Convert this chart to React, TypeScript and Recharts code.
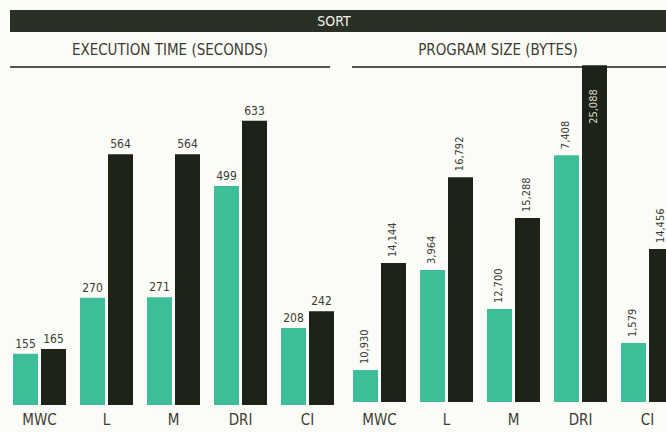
import { Bar, BarChart, LabelList, XAxis, YAxis } from "recharts"

const categories = ["MWC", "L", "M", "DRI", "CI"]

// execution time, seconds
const execFirst = [155, 270, 271, 499, 208]
const execSecond = [165, 564, 564, 633, 242]

// program size: printed labels, and the bar lengths as drawn in the original
// (the original art is not to scale with its own labels)
const sizeFirstLabels = ["10,930", "3,964", "12,700", "7,408", "1,579"]
const sizeSecondLabels = ["14,144", "16,792", "15,288", "25,088", "14,456"]
const sizeFirstDrawn = [2380, 9830, 6920, 18390, 4390]
const sizeSecondDrawn = [10350, 16750, 13700, 25088, 11390]

const TEAL = "#3dbe98"
const DARK = "#1e2318"
const TEXT = "#3c3d33"
const FONT = "'Liberation Sans Narrow', 'DejaVu Sans Condensed', 'Roboto', sans-serif"

const execData = categories.map((name, i) => ({
    name,
    first: execFirst[i],
    second: execSecond[i],
}))

const sizeData = categories.map((name, i) => ({
    name,
    first: sizeFirstDrawn[i],
    second: sizeSecondDrawn[i],
}))

const VerticalLabel = (labels: string[]) => (props: any) => {
    const { x, y, width, index } = props
    const cx = x + width / 2
    const inside = y < 100
    const ty = inside ? y + 24 : y - 6
    return (
        <text
            x={cx}
            y={ty}
            transform={`rotate(-90 ${cx} ${ty})`}
            textAnchor={inside ? "end" : "start"}
            dominantBaseline="middle"
            fontSize={11}
            fontFamily={FONT}
            fill={inside ? "#d8d8c8" : TEXT}
        >
            {labels[index]}
        </text>
    )
}

const tick = { fill: TEXT, fontSize: 15, fontFamily: FONT }

export default function App() {
    return (
        <div
            style={{
                position: "absolute",
                left: 0,
                top: 0,
                width: 666,
                height: 432,
                overflow: "hidden",
                background: "#fbfbf7",
                fontFamily: FONT,
                color: TEXT,
            }}
        >
            <div
                style={{
                    position: "absolute",
                    left: 10,
                    top: 10,
                    width: 660,
                    height: 22,
                    background: "#2b3025",
                    color: "#f2f2ea",
                    fontSize: 14,
                    lineHeight: "22px",
                    textAlign: "center",
                    textIndent: -12,
                }}
            >
                SORT
            </div>
            <div style={{ position: "absolute", left: 10, top: 41, width: 320, textAlign: "center", fontSize: 15 }}>
                EXECUTION TIME (SECONDS)
            </div>
            <div style={{ position: "absolute", left: 10, top: 66, width: 320, height: 2, background: "#55574a" }} />
            <div style={{ position: "absolute", left: 352, top: 41, width: 292, textAlign: "center", fontSize: 15 }}>
                PROGRAM SIZE (BYTES)
            </div>
            <div style={{ position: "absolute", left: 352, top: 66, width: 320, height: 2, background: "#55574a" }} />

            <div style={{ position: "absolute", left: 5.5, top: 80 }}>
                <BarChart
                    width={335}
                    height={350}
                    data={execData}
                    margin={{ top: 8, right: 0, left: 0, bottom: 0 }}
                    barSize={25}
                    barGap={3}
                >
                    <XAxis dataKey="name" axisLine={false} tickLine={false} tick={tick} height={25} tickMargin={3} />
                    <YAxis hide domain={[50, 700]} />
                    <Bar dataKey="first" fill={TEAL} isAnimationActive={false}>
                        <LabelList dataKey="first" position="top" offset={6} fill={TEXT} fontSize={12} fontFamily={FONT} />
                    </Bar>
                    <Bar dataKey="second" fill={DARK} isAnimationActive={false}>
                        <LabelList dataKey="second" position="top" offset={6} fill={TEXT} fontSize={12} fontFamily={FONT} />
                    </Bar>
                </BarChart>
            </div>

            <div style={{ position: "absolute", left: 345.5, top: 40 }}>
                <BarChart
                    width={335}
                    height={390}
                    data={sizeData}
                    margin={{ top: 13, right: 0, left: 0, bottom: 0 }}
                    barSize={25}
                    barGap={3}
                >
                    <XAxis dataKey="name" axisLine={false} tickLine={false} tick={tick} height={28} tickMargin={6} />
                    <YAxis hide domain={[0, 26000]} />
                    <Bar dataKey="first" fill={TEAL} isAnimationActive={false}>
                        <LabelList dataKey="first" content={VerticalLabel(sizeFirstLabels)} />
                    </Bar>
                    <Bar dataKey="second" fill={DARK} isAnimationActive={false}>
                        <LabelList dataKey="second" content={VerticalLabel(sizeSecondLabels)} />
                    </Bar>
                </BarChart>
            </div>
        </div>
    )
}
